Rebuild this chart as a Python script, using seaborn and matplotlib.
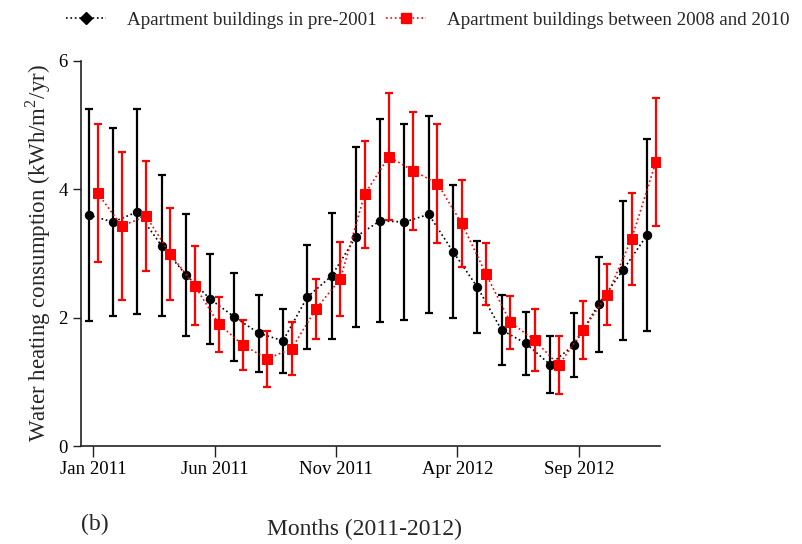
import numpy as np
import pandas as pd
import matplotlib
matplotlib.use("Agg")
import matplotlib.pyplot as plt
from matplotlib.lines import Line2D
import seaborn as sns

months = ["Jan 2011", "Feb 2011", "Mar 2011", "Apr 2011", "May 2011", "Jun 2011",
          "Jul 2011", "Aug 2011", "Sep 2011", "Oct 2011", "Nov 2011", "Dec 2011",
          "Jan 2012", "Feb 2012", "Mar 2012", "Apr 2012", "May 2012", "Jun 2012",
          "Jul 2012", "Aug 2012", "Sep 2012", "Oct 2012", "Nov 2012", "Dec 2012"]

pre2001_mean = [3.60, 3.49, 3.65, 3.12, 2.67, 2.29, 2.01, 1.76, 1.64, 2.32, 2.65, 3.26,
                3.51, 3.49, 3.61, 3.03, 2.48, 1.81, 1.60, 1.27, 1.58, 2.21, 2.74, 3.29]
pre2001_err = [1.65, 1.47, 1.60, 1.10, 0.95, 0.70, 0.68, 0.60, 0.50, 0.81, 0.98, 1.40,
               1.58, 1.52, 1.53, 1.03, 0.72, 0.54, 0.49, 0.44, 0.50, 0.74, 1.08, 1.49]

new_mean = [3.94, 3.43, 3.58, 2.99, 2.50, 1.90, 1.57, 1.36, 1.52, 2.14, 2.60, 3.92,
            4.51, 4.29, 4.09, 3.47, 2.68, 1.93, 1.65, 1.26, 1.81, 2.36, 3.23, 4.43]
new_err = [1.08, 1.15, 0.86, 0.72, 0.62, 0.43, 0.39, 0.44, 0.42, 0.47, 0.58, 0.83,
           0.99, 0.92, 0.92, 0.68, 0.48, 0.41, 0.48, 0.45, 0.45, 0.48, 0.72, 1.00]

label_old = "Apartment buildings in pre-2001"
label_new = "Apartment buildings between 2008 and 2010"

sns.set_style("ticks")
plt.rcParams['font.family'] = ['Liberation Serif', 'DejaVu Serif']
plt.rcParams['mathtext.fontset'] = 'custom'
plt.rcParams['mathtext.rm'] = 'Liberation Serif'

idx = np.arange(len(months))
shift = 0.18  # small dodge between the two groups
df = pd.DataFrame({
    "x": np.concatenate([idx - shift, idx + shift]),
    "y": pre2001_mean + new_mean,
    "err": pre2001_err + new_err,
    "group": [label_old] * len(months) + [label_new] * len(months),
})

fig = plt.figure(figsize=(8.02, 5.44), dpi=100)
ax = fig.add_axes([0.101, 0.180, 0.722, 0.708])

styles = {label_old: dict(color="black", marker="o", ms=6, z=2),
          label_new: dict(color="red", marker="s", ms=7, z=3)}

for g, st in styles.items():
    sub = df[df["group"] == g]
    ax.errorbar(sub["x"], sub["y"], yerr=sub["err"], fmt="none", ecolor=st["color"],
                elinewidth=1.6, capsize=3, capthick=1.6, zorder=st["z"])
    sns.lineplot(data=sub, x="x", y="y", ax=ax, color=st["color"], linestyle=":",
                 linewidth=1.2, marker=st["marker"], markersize=st["ms"],
                 markeredgecolor=st["color"], zorder=st["z"] + 0.5, legend=False)

ax.set_xlim(-0.5, 23.35)
ax.set_ylim(0, 6)
ax.set_yticks([0, 2, 4, 6])
ax.set_xticks([0, 5, 10, 15, 20])
ax.set_xticklabels([months[i] for i in [0, 5, 10, 15, 20]])
ax.tick_params(axis="both", labelsize=13.5, length=6, width=1, direction="out",
               colors="#222222", labelcolor="black")
ax.tick_params(axis="x", length=8, pad=3)
sns.despine(ax=ax)
for s in ["left", "bottom"]:
    ax.spines[s].set_linewidth(1.2)
    ax.spines[s].set_color("#222222")

ax.set_xlabel("")
ax.set_ylabel("Water heating consumption (kWh/m$^{2}$/yr)", fontsize=16.5, labelpad=4)
fig.text(0.455, 0.016, "Months (2011-2012)", fontsize=17, ha="center", va="baseline")
fig.text(0.101, 0.026, "(b)", fontsize=17, ha="left", va="baseline")

handles = [Line2D([], [], color="black", linestyle=":", marker="D", markersize=6, lw=1.2),
           Line2D([], [], color="red", linestyle=":", marker="s", markersize=7, lw=1.2)]
fig.legend(handles, [label_old, label_new], loc="upper left", bbox_to_anchor=(0.068, 1.0),
           ncol=2, frameon=False, fontsize=13.7, handlelength=2.1, columnspacing=0.5,
           handletextpad=1.1, borderaxespad=0.2)

fig.savefig("out.png", dpi=100)
